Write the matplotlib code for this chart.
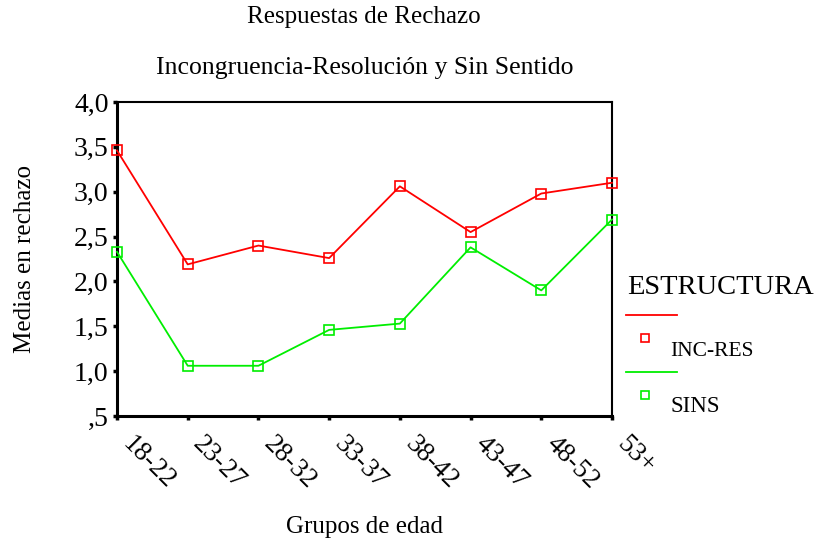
import matplotlib
matplotlib.use("Agg")
import matplotlib.pyplot as plt
from matplotlib.lines import Line2D
import matplotlib.transforms as mtransforms

categories = ["18-22", "23-27", "28-32", "33-37", "38-42", "43-47", "48-52", "53+"]
inc_res = [3.46, 2.19, 2.40, 2.26, 3.06, 2.55, 2.98, 3.10]
sins = [2.33, 1.06, 1.06, 1.46, 1.53, 2.38, 1.90, 2.69]
yticks = [0.5, 1.0, 1.5, 2.0, 2.5, 3.0, 3.5, 4.0]
ytick_labels = [",5", "1,0", "1,5", "2,0", "2,5", "3,0", "3,5", "4,0"]

plt.rcParams['font.family'] = ['Liberation Serif', 'DejaVu Serif']

fig = plt.figure(figsize=(8.21, 5.42), dpi=100)
ax = fig.add_axes([117/821, 1-416/542, (612-117)/821, (416-102)/542])

x = list(range(len(categories)))
ax.plot(x, inc_res, color='#ff0000', lw=1.3, marker='s', ms=7, mfc='none',
        mec='#ff0000', mew=1.2, clip_on=False, zorder=3)
ax.plot(x, sins, color='#00ee00', lw=1.3, marker='s', ms=7, mfc='none',
        mec='#00ee00', mew=1.2, clip_on=False, zorder=3)

ax.set_xlim(0, len(categories)-1)
ax.set_ylim(0.5, 4.0)
ax.set_yticks(yticks)
ax.set_yticklabels(ytick_labels, fontsize=20)
ax.set_xticks(x)
ax.set_xticklabels(categories, fontsize=19.5, rotation=-45, ha='left', va='center',
                   rotation_mode='anchor')
ax.tick_params(axis='both', direction='out', length=3, width=2.5, color='black')
ax.tick_params(axis='y', pad=3)
ax.tick_params(axis='x', pad=5)
offset = mtransforms.ScaledTranslation(9/100, -13/100, fig.dpi_scale_trans)
for lab in ax.get_xticklabels():
    lab.set_transform(lab.get_transform() + offset)
for s in ['left', 'bottom']:
    ax.spines[s].set_linewidth(2.2)
for s in ['top', 'right']:
    ax.spines[s].set_linewidth(1.5)

ax.set_xlabel("Grupos de edad", fontsize=18, va='center')
ax.xaxis.set_label_coords(0.5, (416-527)/314)
ax.set_ylabel("Medias en rechazo", fontsize=18)
ax.yaxis.set_label_coords(-0.163, 0.5)

fig.text(364/821, 1-17/542, "Respuestas de Rechazo", fontsize=18, ha='center', va='center')
fig.text(365/821, 1-68/542, "Incongruencia-Resolución y Sin Sentido", fontsize=18.5, ha='center', va='center')

# legend
fig.text(627/821, 1-288/542, "ESTRUCTURA", fontsize=20.5, ha='left', va='center')
fig.add_artist(Line2D([626/821, 677/821], [1-315/542, 1-315/542], color='#ff0000', lw=1.3))
fig.add_artist(Line2D([645/821], [1-338/542], marker='s', ms=6, mfc='none', mec='#ff0000', mew=1.2, lw=0))
fig.text(670/821, 1-352/542, "INC-RES", fontsize=15.5, ha='left', va='center')
fig.add_artist(Line2D([626/821, 677/821], [1-372/542, 1-372/542], color='#00ee00', lw=1.3))
fig.add_artist(Line2D([645/821], [1-395/542], marker='s', ms=6, mfc='none', mec='#00ee00', mew=1.2, lw=0))
fig.text(670/821, 1-407/542, "SINS", fontsize=16.5, ha='left', va='center')

fig.savefig("out.png", dpi=100)
